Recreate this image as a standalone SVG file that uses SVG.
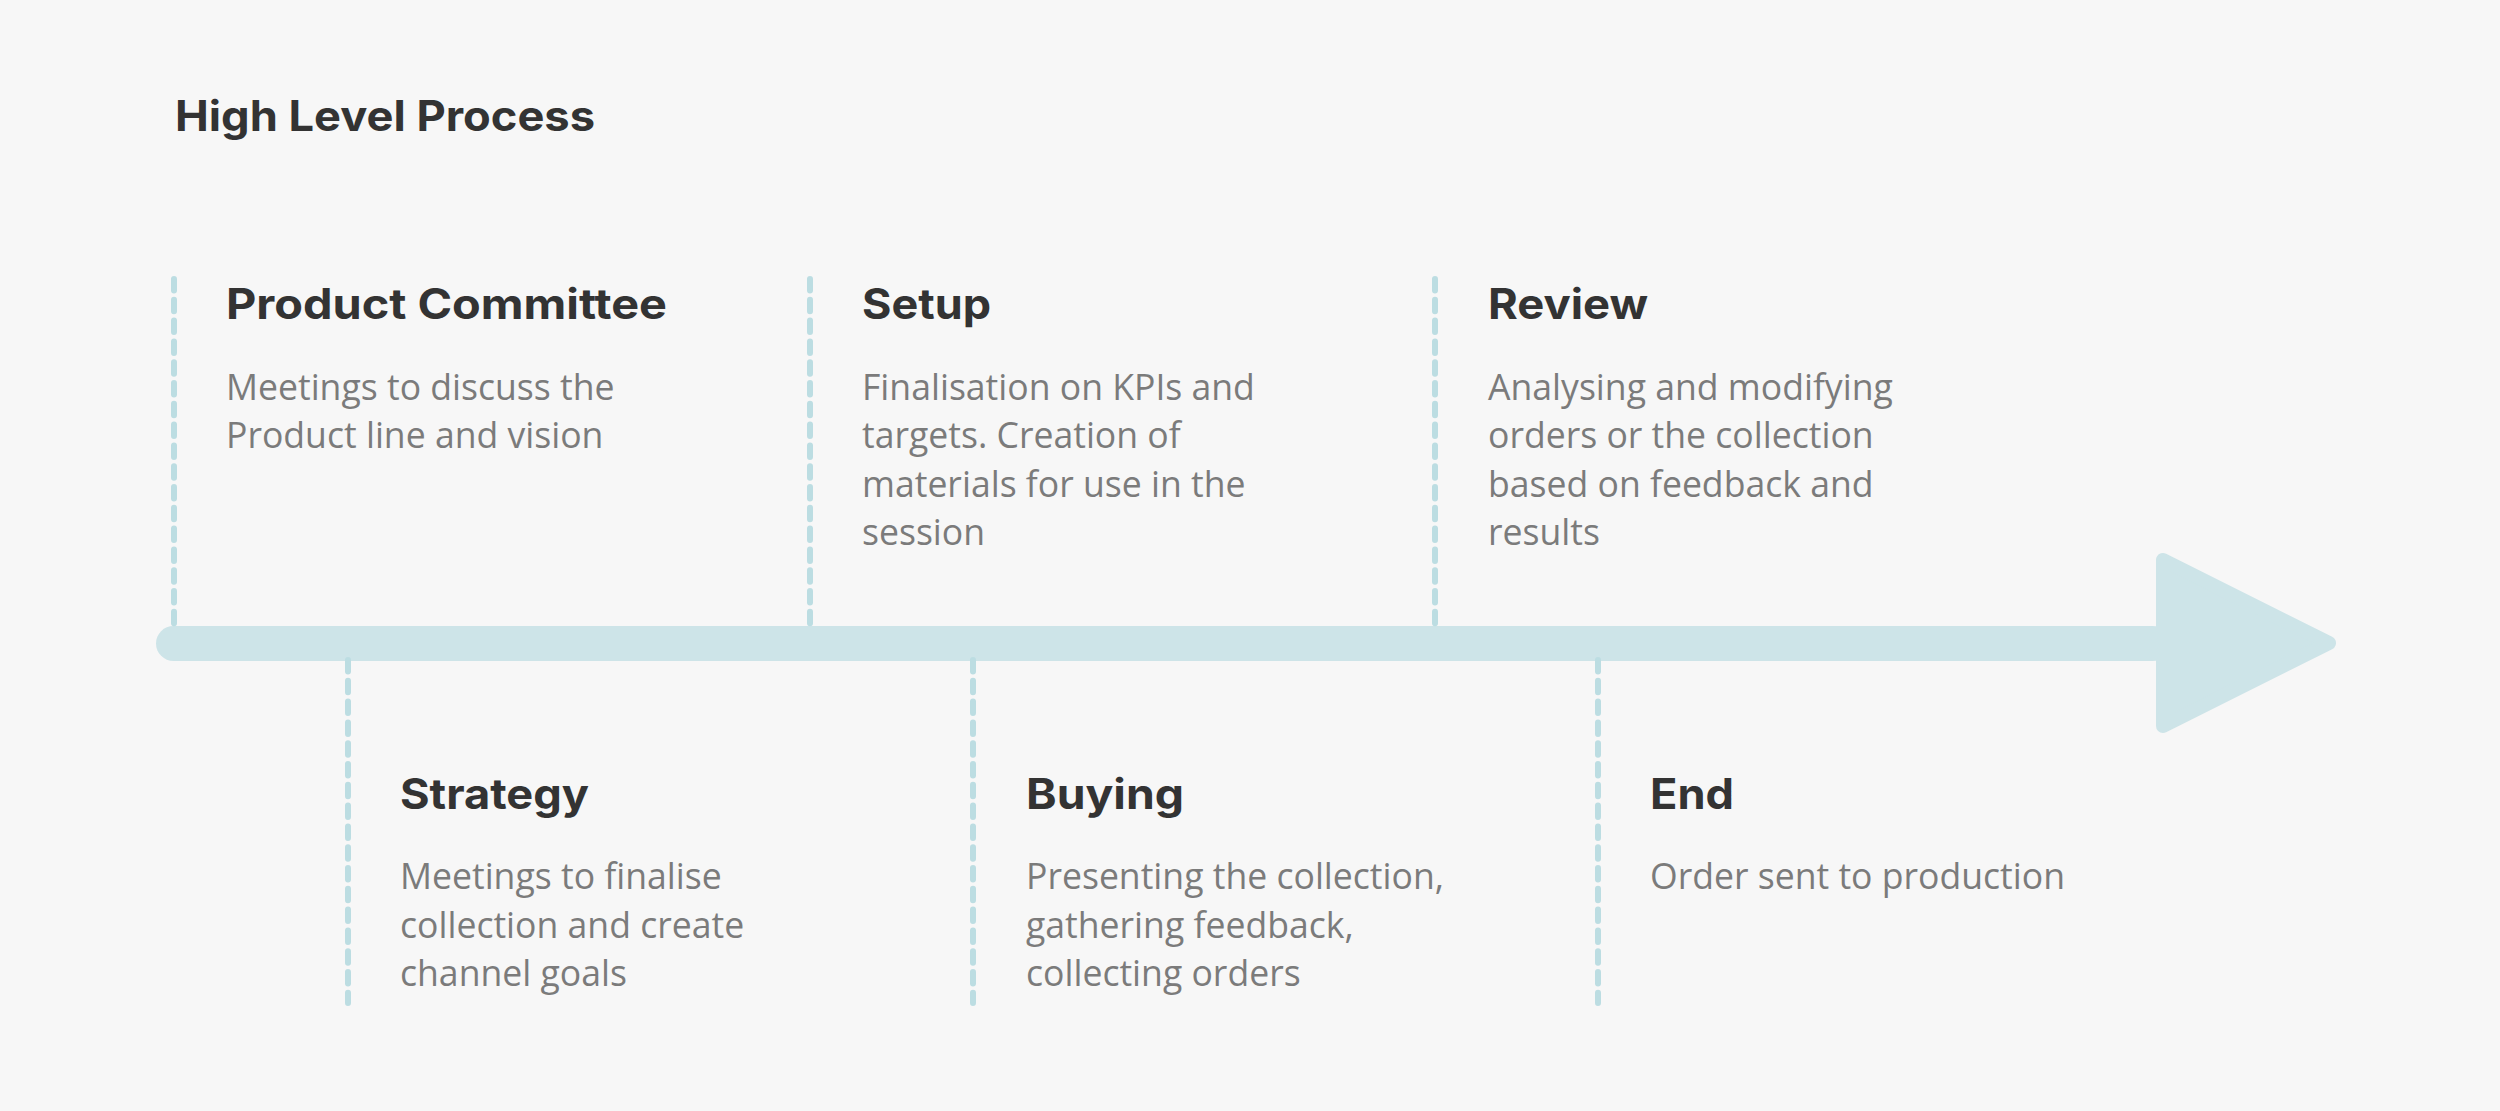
<svg xmlns="http://www.w3.org/2000/svg" width="2500" height="1111" viewBox="0 0 2500 1111">
<style>
.bg{fill:#f7f7f7}
.h{font-family:Inter,"Open Sans","Liberation Sans",sans-serif;font-weight:700;font-size:42px;fill:#333333}
.b{font-family:"Open Sans","Liberation Sans",sans-serif;font-weight:400;font-size:35.6px;fill:#7b7b7b}
.dash{stroke:#bcdde2;stroke-width:6;stroke-linecap:round;stroke-dasharray:11.5 9.3;fill:none}
.bar{fill:#cde4e8}
.head{fill:#cde4e8;stroke:#cde4e8;stroke-width:14;stroke-linejoin:round}
</style>
<rect class="bg" x="0" y="0" width="2500" height="1111"/>
<text id="title" class="h" x="175" y="131" textLength="420" lengthAdjust="spacingAndGlyphs">High Level Process</text>
<g id="connectors">
  <rect class="bar" x="156" y="626" width="2014" height="35" rx="17.5"/>
  <polygon class="head" points="2163,560 2163,726 2329,643"/>
  <line class="dash" x1="174" y1="279" x2="174" y2="624"/>
  <line class="dash" x1="810" y1="279" x2="810" y2="624"/>
  <line class="dash" x1="1435" y1="279" x2="1435" y2="624"/>
  <line class="dash" x1="348" y1="660" x2="348" y2="1003"/>
  <line class="dash" x1="973" y1="660" x2="973" y2="1003"/>
  <line class="dash" x1="1598" y1="660" x2="1598" y2="1003"/>
</g>
<g id="product-committee">
  <text class="h" x="226" y="318.5" textLength="441" lengthAdjust="spacingAndGlyphs">Product Committee</text>
  <text class="b" x="226" y="399.5">Meetings to discuss the</text>
  <text class="b" x="226" y="448">Product line and vision</text>
</g>
<g id="setup">
  <text class="h" x="862" y="318.5" textLength="129" lengthAdjust="spacingAndGlyphs">Setup</text>
  <text class="b" x="862" y="399.5">Finalisation on KPIs and</text>
  <text class="b" x="862" y="448">targets. Creation of</text>
  <text class="b" x="862" y="496.5">materials for use in the</text>
  <text class="b" x="862" y="545">session</text>
</g>
<g id="review">
  <text class="h" x="1488" y="318.5" textLength="160" lengthAdjust="spacingAndGlyphs">Review</text>
  <text class="b" x="1488" y="399.5">Analysing and modifying</text>
  <text class="b" x="1488" y="448">orders or the collection</text>
  <text class="b" x="1488" y="496.5">based on feedback and</text>
  <text class="b" x="1488" y="545">results</text>
</g>
<g id="strategy">
  <text class="h" x="400" y="808.5" textLength="189" lengthAdjust="spacingAndGlyphs">Strategy</text>
  <text class="b" x="400" y="889">Meetings to finalise</text>
  <text class="b" x="400" y="937.5">collection and create</text>
  <text class="b" x="400" y="986">channel goals</text>
</g>
<g id="buying">
  <text class="h" x="1026" y="808.5" textLength="158" lengthAdjust="spacingAndGlyphs">Buying</text>
  <text class="b" x="1026" y="889">Presenting the collection,</text>
  <text class="b" x="1026" y="937.5">gathering feedback,</text>
  <text class="b" x="1026" y="986">collecting orders</text>
</g>
<g id="end">
  <text class="h" x="1650" y="808.5" textLength="84" lengthAdjust="spacingAndGlyphs">End</text>
  <text class="b" x="1650" y="889">Order sent to production</text>
</g>
</svg>
